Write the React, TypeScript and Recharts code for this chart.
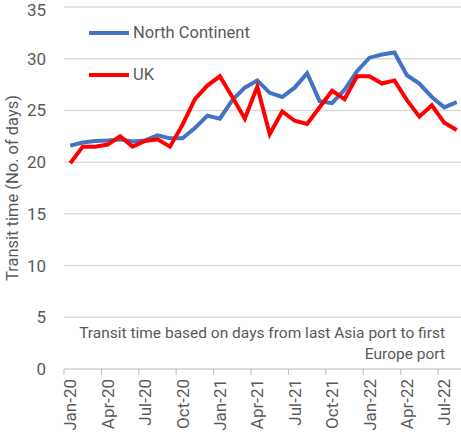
import React from 'react'
import { LineChart, Line, XAxis, YAxis, CartesianGrid, Legend } from 'recharts'

const months = [
  'Jan-20', 'Feb-20', 'Mar-20', 'Apr-20', 'May-20', 'Jun-20', 'Jul-20', 'Aug-20', 'Sep-20', 'Oct-20', 'Nov-20', 'Dec-20',
  'Jan-21', 'Feb-21', 'Mar-21', 'Apr-21', 'May-21', 'Jun-21', 'Jul-21', 'Aug-21', 'Sep-21', 'Oct-21', 'Nov-21', 'Dec-21',
  'Jan-22', 'Feb-22', 'Mar-22', 'Apr-22', 'May-22', 'Jun-22', 'Jul-22', 'Aug-22',
]

const northContinent = [
  21.6, 21.9, 22.05, 22.1, 22.2, 22.0, 22.1, 22.6, 22.3, 22.3, 23.3, 24.5,
  24.2, 26.0, 27.2, 27.9, 26.7, 26.3, 27.2, 28.6, 25.9, 25.7, 27.0, 28.8,
  30.1, 30.4, 30.6, 28.4, 27.6, 26.3, 25.3, 25.8,
]

const uk = [
  19.9, 21.5, 21.5, 21.7, 22.5, 21.5, 22.05, 22.2, 21.5, 23.6, 26.1, 27.4,
  28.3, 26.3, 24.2, 27.3, 22.7, 24.9, 24.0, 23.7, 25.3, 26.9, 26.1, 28.3,
  28.3, 27.6, 27.9, 26.0, 24.4, 25.5, 23.8, 23.1,
]

const yTicks = [0, 5, 10, 15, 20, 25, 30, 35]

const data = months.map((m, i) => ({ month: m, north: northContinent[i], uk: uk[i] }))

const FONT = 'Roboto, "Liberation Sans", sans-serif'
const GREY = '#595959'
const CHART_W = 470
const CHART_H = 433
const Y_AXIS_W = 64
const MARGIN = { top: 7, right: 7, left: 0, bottom: 0 }
const STEP = (CHART_W - MARGIN.left - MARGIN.right - Y_AXIS_W) / months.length

const MonthTick = (props: any) => {
  const { x, y, payload } = props
  return (
    <g transform={`translate(${x},${y})`}>
      <line x1={-STEP / 2} x2={-STEP / 2} y1={0} y2={6} stroke="#bfbfbf" strokeWidth={1} />
      <text
        transform="rotate(-90)"
        x={-10}
        y={0}
        dy="0.36em"
        textAnchor="end"
        fill={GREY}
        fontSize={17}
        fontFamily={FONT}
      >
        {payload.value}
      </text>
    </g>
  )
}

const renderLegend = () => (
  <div style={{ fontFamily: FONT, fontSize: 16.5, color: GREY }}>
    {[
      { label: 'North Continent', color: '#4472C4' },
      { label: 'UK', color: '#FF0000' },
    ].map((item) => (
      <div key={item.label} style={{ display: 'flex', alignItems: 'center', height: 42 }}>
        <svg width={43} height={8}>
          <line x1={1} x2={41} y1={4} y2={4} stroke={item.color} strokeWidth={4} />
        </svg>
        <span style={{ marginLeft: 2, lineHeight: '20px' }}>{item.label}</span>
      </div>
    ))}
  </div>
)

export default function App() {
  return (
    <div style={{ position: 'absolute', left: 0, top: 0, width: 461, height: 433, overflow: 'hidden', background: '#fff' }}>
      <LineChart width={CHART_W} height={CHART_H} data={data} margin={MARGIN}>
        <CartesianGrid vertical={false} stroke="#d9d9d9" strokeWidth={1.5} />
        <XAxis
          dataKey="month"
          interval={2}
          height={64}
          padding={{ left: STEP / 2, right: STEP / 2 }}
          axisLine={{ stroke: '#d9d9d9', strokeWidth: 1.5 }}
          tickLine={false}
          tickSize={0}
          tickMargin={0}
          tick={<MonthTick />}
        />
        <YAxis
          width={Y_AXIS_W}
          domain={[0, 35]}
          ticks={yTicks}
          axisLine={false}
          tickLine={false}
          tickSize={0}
          tickMargin={18}
          tick={{ fill: GREY, fontSize: 17, fontFamily: FONT }}
          label={{
            content: () => (
              <text
                x={12}
                y={188}
                transform="rotate(-90 12 188)"
                textAnchor="middle"
                dominantBaseline="central"
                fill={GREY}
                fontSize={16.5}
                fontFamily={FONT}
              >
                Transit time (No. of days)
              </text>
            ),
          }}
        />
        <Legend
          layout="vertical"
          align="center"
          verticalAlign="middle"
          content={renderLegend}
          wrapperStyle={{ left: 88, top: 12, width: 'auto' }}
        />
        <Line dataKey="north" name="North Continent" stroke="#4472C4" strokeWidth={4} dot={false} isAnimationActive={false} />
        <Line dataKey="uk" name="UK" stroke="#FF0000" strokeWidth={4} dot={false} isAnimationActive={false} />
      </LineChart>
      <div
        style={{
          position: 'absolute',
          right: 16,
          top: 323,
          textAlign: 'right',
          fontFamily: FONT,
          fontSize: 15.5,
          lineHeight: '21px',
          color: GREY,
        }}
      >
        Transit time based on days from last Asia port to first
        <br />
        Europe port
      </div>
    </div>
  )
}
